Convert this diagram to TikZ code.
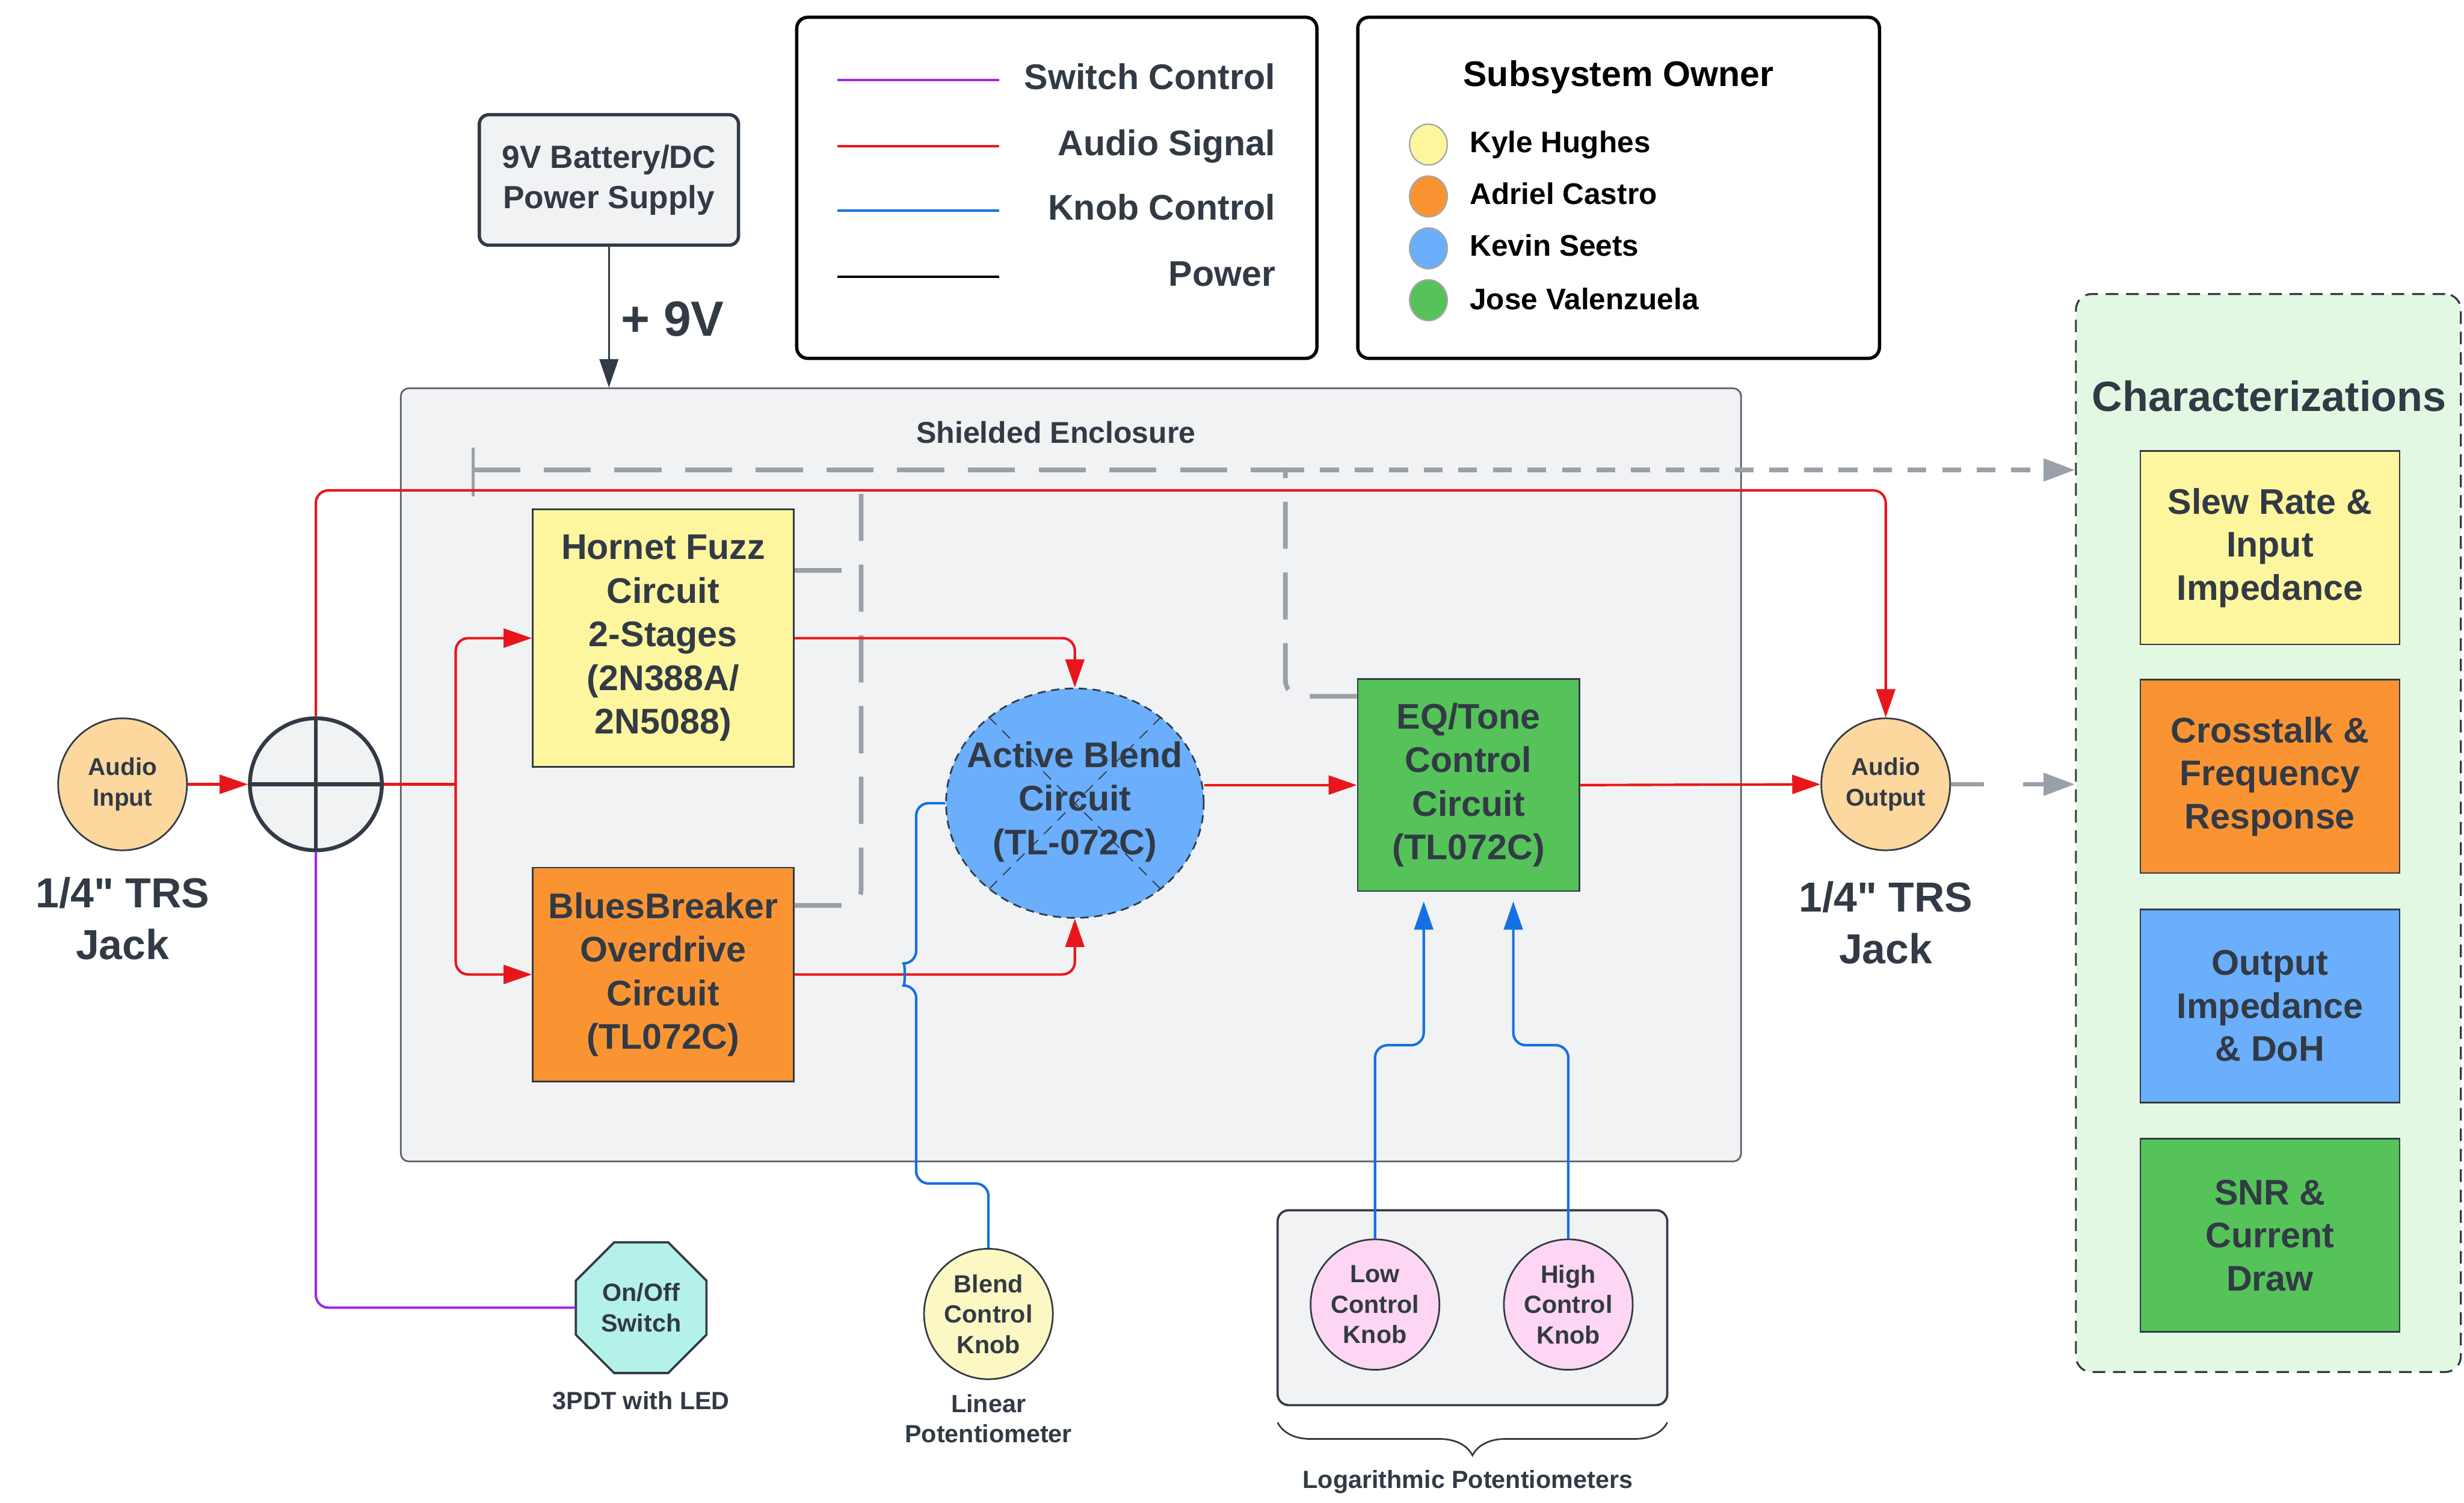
\documentclass[tikz,border=0pt]{standalone}
\usepackage{fontspec}
\setmainfont{Liberation Sans}[Ligatures=TeXOff]
\usepackage{tikz}
\usetikzlibrary{arrows.meta,shapes.geometric,decorations.pathreplacing}

\definecolor{ink}{HTML}{323A45}
\definecolor{encl}{HTML}{5A5F66}
\definecolor{sigred}{HTML}{E8161B}
\definecolor{swpurple}{HTML}{A126EC}
\definecolor{knobblue}{HTML}{1570E3}
\definecolor{dashgray}{HTML}{9AA0A8}
\definecolor{shell}{HTML}{F1F2F4}
\definecolor{peach}{HTML}{FCD89F}
\definecolor{kyle}{HTML}{FEF69F}
\definecolor{adriel}{HTML}{FA9433}
\definecolor{kevin}{HTML}{6AAEFC}
\definecolor{jose}{HTML}{55C35A}
\definecolor{swteal}{HTML}{B4F1E8}
\definecolor{knobpink}{HTML}{FCD6F3}
\definecolor{cream}{HTML}{FCF8C3}
\definecolor{mint}{HTML}{E2F8E2}

\newcommand\blkfont{\fontsize{12.9pt}{15.8pt}\selectfont\bfseries}
\newcommand\chrfont{\fontsize{12.9pt}{15.6pt}\selectfont\bfseries}
\newcommand\legfont{\fontsize{12.9pt}{15pt}\selectfont\bfseries}
\newcommand\ownfont{\fontsize{12.9pt}{15pt}\selectfont\bfseries}
\newcommand\namefont{\fontsize{10.8pt}{13pt}\selectfont\bfseries}
\newcommand\encfont{\fontsize{10.9pt}{13pt}\selectfont\bfseries}
\newcommand\jackfont{\fontsize{15.2pt}{18.7pt}\selectfont\bfseries}
\newcommand\voltfont{\fontsize{17.9pt}{21pt}\selectfont\bfseries}
\newcommand\titfont{\fontsize{15.3pt}{18pt}\selectfont\bfseries}
\newcommand\pwrfont{\fontsize{11.6pt}{14.7pt}\selectfont\bfseries}
\newcommand\jinfont{\fontsize{8.8pt}{11.3pt}\selectfont\bfseries}
\newcommand\knobfont{\fontsize{9pt}{11pt}\selectfont\bfseries}
\newcommand\notefont{\fontsize{9pt}{10.8pt}\selectfont\bfseries}

\begin{document}
\begin{tikzpicture}[x=0.02cm,y=-0.02cm,
        txt/.style={font=\blkfont,text=ink,align=center},
        blk/.style={txt,draw=ink,line width=0.6pt,inner sep=0pt,minimum width=3.32cm},
        jack/.style={ellipse,draw=ink,line width=0.6pt,fill=peach,inner sep=0pt,minimum width=1.64cm,minimum height=1.68cm,font=\jinfont,text=ink,align=center},
        knob/.style={ellipse,draw=ink,line width=0.6pt,inner sep=0pt,minimum width=1.64cm,minimum height=1.66cm,font=\knobfont,text=ink,align=center},
        chr/.style={txt,font=\chrfont,draw=ink,line width=0.6pt,inner sep=0pt,minimum width=3.3cm,minimum height=2.46cm},
        arr/.style={-{Stealth[inset=0pt,length=0.36cm,width=0.24cm]}},
        garr/.style={-{Stealth[inset=0pt,length=0.4cm,width=0.28cm]}},
        sig/.style={sigred,line width=0.9pt,rounded corners=0.16cm},
        knb/.style={knobblue,line width=0.9pt,rounded corners=0.16cm},
        swl/.style={swpurple,line width=0.9pt,rounded corners=0.16cm},
        meas/.style={dashgray,line width=1.7pt,rounded corners=0.2cm,dash pattern=on 0.6cm off 0.3cm},
        measb/.style={meas,dash pattern=on 0.24cm off 0.2cm},
        legbox/.style={draw=black,line width=1.2pt,rounded corners=0.14cm,fill=white},
        owner/.style={ellipse,draw=black!35,line width=0.5pt,minimum width=0.48cm,minimum height=0.52cm,inner sep=0pt}]
        \fill[white] (0,0) rectangle (1568,956);
        \useasboundingbox (0,0) rectangle (1568,956);
        \draw[legbox] (507,11) rectangle (838,228);
        \draw[legbox] (864,11) rectangle (1196,228);
        \draw[swpurple,line width=0.8pt] (533,51) -- (636,51);
        \draw[sigred,line width=0.8pt] (533,93) -- (636,93);
        \draw[knobblue,line width=0.8pt] (533,134) -- (636,134);
        \draw[black,line width=0.8pt] (533,176) -- (636,176);
        \node[anchor=base east,inner sep=0pt,font=\legfont,text=ink] (L1) at (812,57) {Switch Control};
        \node[anchor=base east,inner sep=0pt,font=\legfont,text=ink] (L2) at (812,99) {Audio Signal};
        \node[anchor=base east,inner sep=0pt,font=\legfont,text=ink] (L3) at (812,140) {Knob Control};
        \node[anchor=base east,inner sep=0pt,font=\legfont,text=ink] (L4) at (812,182) {Power};
        \node[anchor=base,inner sep=0pt,font=\ownfont] (OwnT) at (1030,55) {Subsystem Owner};
        \node[owner,fill=kyle] (O1) at (909,92) {};
        \node[owner,fill=adriel] (O2) at (909,125) {};
        \node[owner,fill=kevin] (O3) at (909,158) {};
        \node[owner,fill=jose] (O4) at (909,191) {};
        \node[anchor=base west,inner sep=0pt,font=\namefont] (N1) at (935,97) {Kyle Hughes};
        \node[anchor=base west,inner sep=0pt,font=\namefont] (N2) at (935,130) {Adriel Castro};
        \node[anchor=base west,inner sep=0pt,font=\namefont] (N3) at (935,163) {Kevin Seets};
        \node[anchor=base west,inner sep=0pt,font=\namefont] (N4) at (935,197) {Jose Valenzuela};
        \node[draw=ink,line width=1.2pt,fill=shell,rounded corners=0.12cm,minimum width=3.3cm,minimum height=1.66cm,font=\pwrfont,text=ink,align=center] (Pwr) at (387.5,114.5) {9V Battery/DC\\Power Supply};
        \node[font=\voltfont,text=ink] (V9) at (428,203) {+ 9V};
        \node[draw=encl,fill=shell,line width=0.6pt,rounded corners=0.1cm,minimum width=17.06cm,minimum height=9.84cm] (Encl) at (681.5,493) {};
        \node[font=\encfont,text=ink] (EnclT) at (672,275) {Shielded Enclosure};
        \node[fill=mint,draw=ink,line width=0.7pt,dash pattern=on 0.16cm off 0.1cm,rounded corners=0.2cm,minimum width=4.9cm,minimum height=13.72cm] (Char) at (1443.5,530) {};
        \node[font=\titfont,text=ink] (CharT) at (1444,252) {Characterizations};
        \node[chr,fill=kyle] (C1) at (1444.5,348.5) {Slew Rate \&\\Input\\Impedance};
        \node[chr,fill=adriel] (C2) at (1444.5,494) {Crosstalk \&\\Frequency\\Response};
        \node[chr,fill=kevin] (C3) at (1444.5,640) {Output\\Impedance\\\& DoH};
        \node[chr,fill=jose] (C4) at (1444.5,786) {SNR \&\\Current\\Draw};
        \node[jack] (In) at (78,499) {Audio\\Input};
        \node[font=\jackfont,text=ink,align=center] (InT) at (78,584.5) {1/4" TRS\\Jack};
        \node[circle,draw=ink,fill=shell,line width=1.4pt,minimum size=1.68cm] (Sum) at (201,499) {};
        \draw[ink,line width=1.4pt] (Sum.north) -- (Sum.south) (Sum.west) -- (Sum.east);
        \node[blk,fill=kyle,minimum height=3.28cm] (Fuzz) at (422,406) {Hornet Fuzz\\Circuit\\2-Stages\\(2N388A/\\2N5088)};
        \node[blk,fill=adriel,minimum height=2.72cm] (Blues) at (422,620) {BluesBreaker\\Overdrive\\Circuit\\(TL072C)};
        \node[ellipse,draw=ink,fill=kevin,line width=0.6pt,dash pattern=on 3pt off 2pt,minimum width=3.28cm,minimum height=2.92cm] (Blend) at (684,511) {};
        \draw[ink,line width=0.4pt,dash pattern=on 4pt off 3pt] (Blend.45) -- (Blend.225) (Blend.135) -- (Blend.315);
        \node[txt] (BlendT) at (684,510) {Active Blend\\Circuit\\(TL-072C)};
        \node[blk,fill=jose,minimum width=2.82cm,minimum height=2.7cm] (EQ) at (934.5,499.5) {EQ/Tone\\Control\\Circuit\\(TL072C)};
        \node[jack] (Out) at (1200,499) {Audio\\Output};
        \node[font=\jackfont,text=ink,align=center] (OutT) at (1200,587) {1/4" TRS\\Jack};
        \node[regular polygon,regular polygon sides=8,draw=ink,fill=swteal,line width=0.8pt,inner sep=0pt,minimum size=1.8cm,font=\knobfont,text=ink,align=center] (Sw) at (408,832) {On/Off\\Switch};
        \node[font=\notefont,text=ink] (SwT) at (408,891) {3PDT with LED};
        \node[knob,fill=cream] (BK) at (629,836) {Blend\\Control\\Knob};
        \node[font=\notefont,text=ink,align=center] (BKT) at (629,902.5) {Linear\\Potentiometer};
        \node[draw=ink,fill=shell,line width=0.8pt,rounded corners=0.14cm,minimum width=4.96cm,minimum height=2.48cm] (Grp) at (937,832) {};
        \node[knob,fill=knobpink] (LK) at (875,830) {Low\\Control\\Knob};
        \node[knob,fill=knobpink] (HK) at (998,830) {High\\Control\\Knob};
        \draw[decorate,decoration={brace,mirror,amplitude=0.42cm},ink,line width=0.6pt] (813,905) -- (1061,905);
        \node[font=\notefont,text=ink] (GrpT) at (934,943) {Logarithmic Potentiometers};
        \coordinate (J) at (290,499);
        \coordinate (T0) at (301,299);
        \coordinate (T1) at (548,299);
        \coordinate (T2) at (818,299);
        \draw[dashgray,line width=1.2pt] (301,285) -- (301,316);
        \draw[meas] (T0) -- (T2);
        \draw[measb,garr] (T2) -- (Char.west |- T2);
        \draw[meas] (Fuzz.east |- 0,363) -- (T1 |- 0,363);
        \draw[meas] (Blues.east |- 0,576) -| (T1);
        \draw[meas] (EQ.west |- 0,443) -| (T2);
        \draw[meas,dash pattern=on 0.42cm off 0.5cm,garr] (Out) -- (Char.west |- Out);
        \draw[ink,line width=0.6pt,arr] (Pwr.south) -- (Pwr.south |- Encl.north);
        \draw[sig,arr] (In) -- (Sum);
        \draw[sig] (Sum.east) -- (J);
        \draw[sig,arr] (J) |- (Fuzz.west);
        \draw[sig,arr] (J) |- (Blues.west);
        \draw[sig,arr] (Sum.north) -- (Sum.north |- 0,312) -| (Out.north);
        \draw[sig,arr] (Fuzz.east) -| (Blend.north);
        \draw[sig,arr] (Blues.east) -| (Blend.south);
        \draw[sig,arr] (Blend.east |- EQ.west) -- (EQ.west);
        \draw[sig,arr] (EQ.east) -- (Out.west);
        \draw[swl] (Sum.south) |- (Sw.west);
        \draw[knb] (BK.north) |- (583,753) -- (583,627) .. controls (576,627) and (576,613) .. (583,613) |- (Blend.west);
        \draw[knb,arr,shorten >=0.12cm] (LK.north) -- (LK.north |- 0,665) -| ([xshift=-0.57cm]EQ.south);
        \draw[knb,arr,shorten >=0.12cm] (HK.north) -- (HK.north |- 0,665) -| ([xshift=0.57cm]EQ.south);
\end{tikzpicture}
\end{document}
